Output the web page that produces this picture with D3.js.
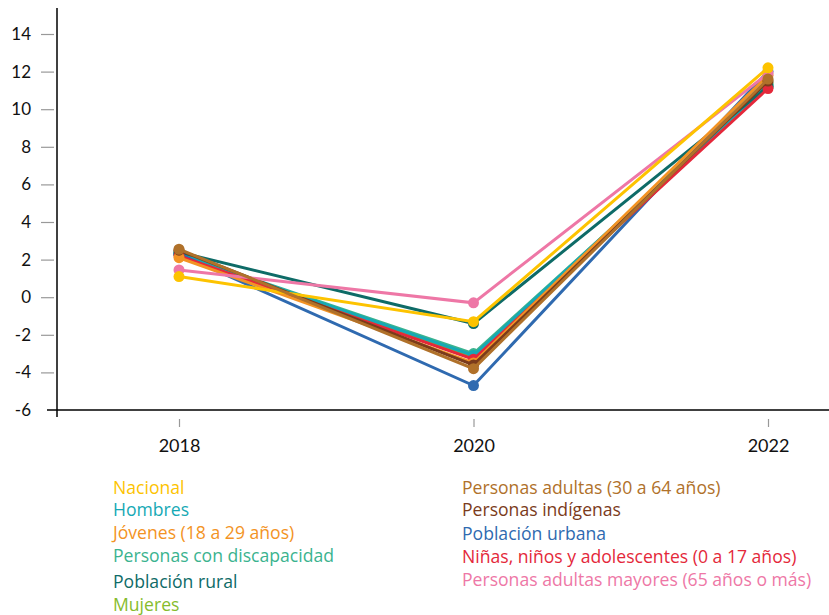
<!DOCTYPE html>
<html><head><meta charset="utf-8">
<script src="https://cdn.jsdelivr.net/npm/d3@7"></script>
<style>body{margin:0;background:#fff}svg{display:block;font-family:Lato,"Open Sans",sans-serif}</style>
</head><body><svg id="c" width="829" height="615"></svg>
<script>
const years = ["2018","2020","2022"];
const yTicks = [-6,-4,-2,0,2,4,6,8,10,12,14];
const seriesNames = ["Nacional","Hombres","Jóvenes (18 a 29 años)","Personas con discapacidad","Población rural","Mujeres","Personas adultas (30 a 64 años)","Personas indígenas","Población urbana","Niñas, niños y adolescentes (0 a 17 años)","Personas adultas mayores (65 años o más)"];
const seriesColors = ["#FDC300","#16A9B5","#F39324","#3BB38F","#0E6B67","#86BC2D","#B0712A","#7B3B1B","#2F6AB0","#E4283A","#EE77A6"];
const nacional = [1.1,-1.3,12.2];
const hombres = [2.3,-3.1,11.3];
const jovenes = [2.1,-3.5,11.8];
const discapacidad = [2.3,-3.0,11.2];
const rural = [2.4,-1.4,11.2];
const mujeres = [2.3,-3.2,11.4];
const adultas = [2.55,-3.8,11.6];
const indigenas = [2.5,-3.6,11.5];
const urbana = [2.3,-4.7,12.0];
const ninas = [2.2,-3.3,11.1];
const mayores = [1.45,-0.3,11.9];
const seriesValues = [nacional,hombres,jovenes,discapacidad,rural,mujeres,adultas,indigenas,urbana,ninas,mayores];
// draw order (last on top)
const drawOrder = [5,3,1,4,8,9,2,7,10,0,6];

const svg = d3.select("#c");
const x = d3.scalePoint().domain(years).range([179,768]);
const y = d3.scaleLinear().domain([-6,14]).range([410,34]);

svg.append("line").attr("x1",57).attr("x2",57).attr("y1",8).attr("y2",417).attr("stroke","#000").attr("stroke-width",1.5);
svg.append("line").attr("x1",47).attr("x2",829).attr("y1",y(-6)).attr("y2",y(-6)).attr("stroke","#000").attr("stroke-width",1.5);
const yAxis = svg.append("g").attr("transform","translate(54,0)")
  .call(d3.axisLeft(y).tickValues(yTicks).tickSize(13).tickPadding(10).tickFormat(d=>String(d)));
yAxis.select(".domain").remove();
yAxis.selectAll(".tick line").attr("stroke","#999").attr("stroke-width",1.2);
yAxis.selectAll(".tick").filter(d=>d===-6).select("line").remove();
yAxis.selectAll("text").attr("font-size",17).attr("fill","#111").attr("font-family","Lato,sans-serif");

const xAxis = svg.append("g").attr("transform","translate(0,419)")
  .call(d3.axisBottom(x).tickSize(8).tickPadding(12));
xAxis.select(".domain").remove();
xAxis.selectAll(".tick line").attr("stroke","#999").attr("stroke-width",1.2);
xAxis.selectAll("text").attr("font-size",18).attr("fill","#111").attr("font-family","Lato,sans-serif");

const line = d3.line().x((d,i)=>x(years[i])).y(d=>y(d));
const g = svg.append("g");
drawOrder.forEach(k=>{
  const s = g.append("g");
  s.append("path").attr("d",line(seriesValues[k])).attr("fill","none").attr("stroke",seriesColors[k]).attr("stroke-width",3);
  s.selectAll("circle").data(seriesValues[k]).join("circle")
    .attr("cx",(d,i)=>x(years[i])).attr("cy",d=>y(d)).attr("r",5.5).attr("fill",seriesColors[k]);
});

const legPos = [[113,488],[113,510],[113,533],[113,556],[113,582],[113,605],[462,488],[462,510],[462,534],[462,557],[462,580]];
seriesNames.forEach((n,i)=>{
  svg.append("text").attr("x",legPos[i][0]).attr("y",legPos[i][1]).attr("dy","0.35em")
    .attr("font-size",17.6).attr("font-family","'Open Sans',sans-serif").attr("fill",seriesColors[i]).text(n);
});
</script></body></html>
